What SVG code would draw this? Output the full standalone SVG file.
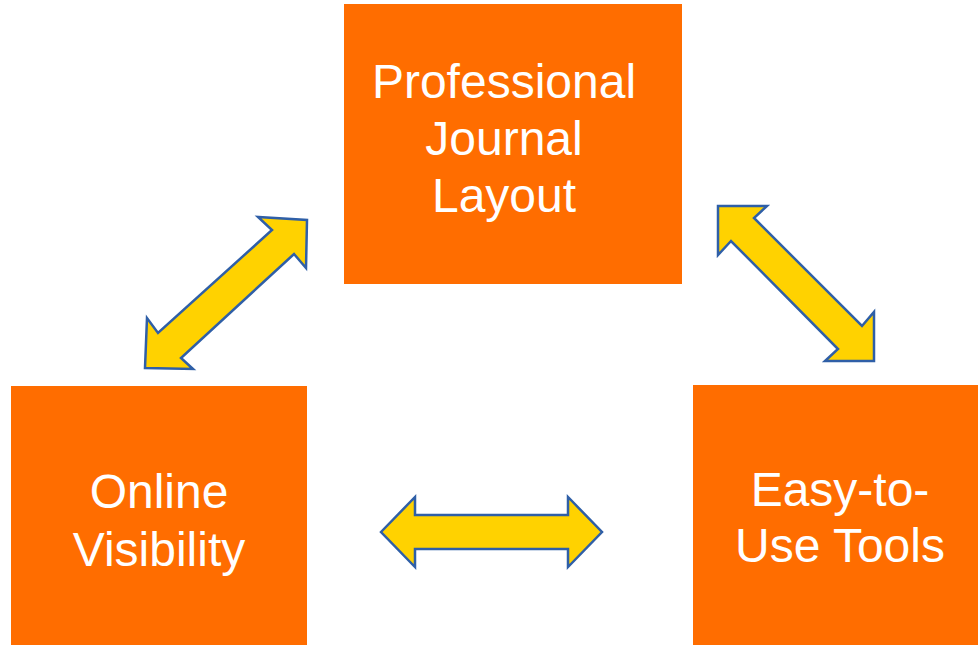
<svg xmlns="http://www.w3.org/2000/svg" width="978" height="645" viewBox="0 0 978 645">
<style>
.box{fill:#FF6D00}
.lbl{font-family:"Liberation Sans",Arial,sans-serif;font-size:48px;fill:#FFFFFF;text-anchor:middle}
.arr{fill:#FFD200;stroke:#2F5FA7;stroke-width:2.5;stroke-linejoin:miter}
</style>
<rect width="978" height="645" fill="#FFFFFF"/>
<g id="node-journal">
<rect class="box" x="344" y="4" width="338" height="280"/>
<text class="lbl" x="504" y="98">Professional</text>
<text class="lbl" x="504" y="155">Journal</text>
<text class="lbl" x="504" y="212">Layout</text>
</g>
<g id="node-visibility">
<rect class="box" x="11" y="386" width="296" height="259"/>
<text class="lbl" x="159" y="508">Online</text>
<text class="lbl" x="159" y="566">Visibility</text>
</g>
<g id="node-tools">
<rect class="box" x="693" y="385" width="285" height="260"/>
<text class="lbl" x="840" y="506">Easy-to-</text>
<text class="lbl" x="840" y="562">Use Tools</text>
</g>
<g id="connectors">
<polygon class="arr" points="307,220 306,268 294,254 181,358 193,369 145,368 147,318 158,333 272,230 258,217"/>
<polygon class="arr" points="718,206 767,206 754,218 862,326 874,312 874,361 825,361 838,349 731,241 718,255"/>
<polygon class="arr" points="381,532 415,497 415,515 568,515 568,497 602,532 568,567 568,549 415,549 415,567"/>
</g>
</svg>
